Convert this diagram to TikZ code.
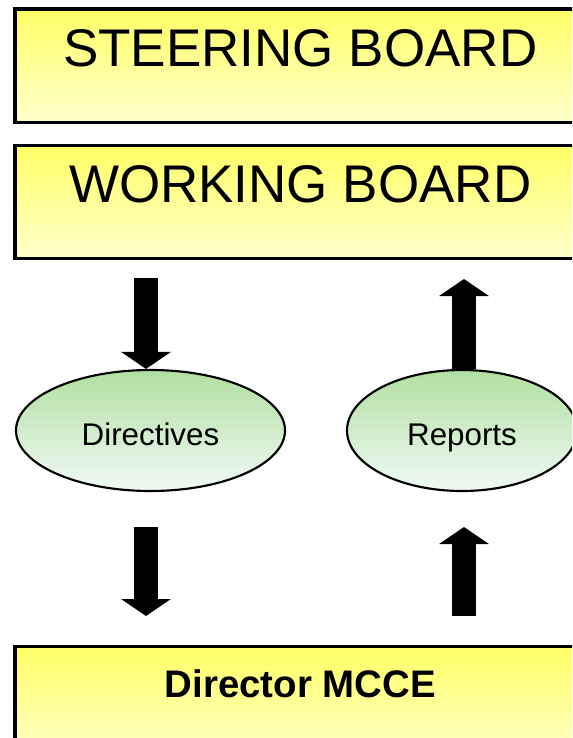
\documentclass[tikz,border=0pt]{standalone}
\usepackage{fontspec}
\setmainfont{Liberation Sans}
\usetikzlibrary{shapes.geometric, arrows.meta}

\definecolor{boxtop}{RGB}{255,255,102}
\definecolor{boxbot}{RGB}{255,255,204}
\definecolor{ovaltop}{RGB}{178,223,160}
\definecolor{ovalmid}{RGB}{226,244,232}
\definecolor{ovalbot}{RGB}{240,250,246}

\begin{document}
\begin{tikzpicture}
  [
    x = 0.75pt, y = -0.75pt,  % pixel grid, y runs down
    board/.style = {draw, rectangle, line width = 2.6pt, inner sep = 0pt,
      minimum width = 427.6pt, minimum height = 84.8pt,
      top color = boxtop, bottom color = boxbot},
    oval/.style = {draw, ellipse, line width = 1.6pt, inner sep = 0pt,
      minimum height = 90.75pt, top color = ovaltop, middle color = ovalmid,
      bottom color = ovalbot, text height = 21.75pt, text depth = 0pt,
      font = \fontsize{23.5}{28}\selectfont},
    title/.style = {inner sep = 0pt, font = \fontsize{39.75}{48}\selectfont},
    bigarrow/.style = {line width = 18pt,
      -{Triangle[width = 36.75pt, length = 12.75pt]}}
  ]
  \useasboundingbox (0,0) rectangle (572,738);
  \clip (0,0) rectangle (572,738);

  \node [board] (Steer) at (300.25,65.75) {};
  \node [board] (Work)  at (300.25,202) {};
  \node [board] (Boss)  at (300.25,703.25) {};
  \node [title] (SteerT) at ([yshift=-30.4pt]Steer.north) {STEERING BOARD};
  \node [title] (WorkT)  at ([yshift=-30.4pt]Work.north) {WORKING BOARD};
  \node [inner sep = 0pt, font = \bfseries\fontsize{28.8}{34}\selectfont]
    (BossT) at ([yshift=-29pt]Boss.north) {Director MCCE};

  \node [oval, minimum width = 201.75pt] (Dir) at (150.5,430.5) {Directives};
  \node [oval, minimum width = 172.5pt]  (Rep) at (462,430.5) {Reports};

  \coordinate (DirIn)  at (146,278);
  \coordinate (DirOut) at (146,527);
  \coordinate (DirEnd) at (146,616);
  \coordinate (RepOut) at (464,279);
  \coordinate (RepIn)  at (464,616);
  \coordinate (RepEnd) at (464,527);
  \draw [bigarrow] (DirIn) -- (DirIn |- Dir.north);
  \draw [bigarrow] (DirOut) -- (DirEnd);
  \draw [bigarrow] (RepOut |- Rep.north) -- (RepOut);
  \draw [bigarrow] (RepIn) -- (RepEnd);
\end{tikzpicture}
\end{document}
